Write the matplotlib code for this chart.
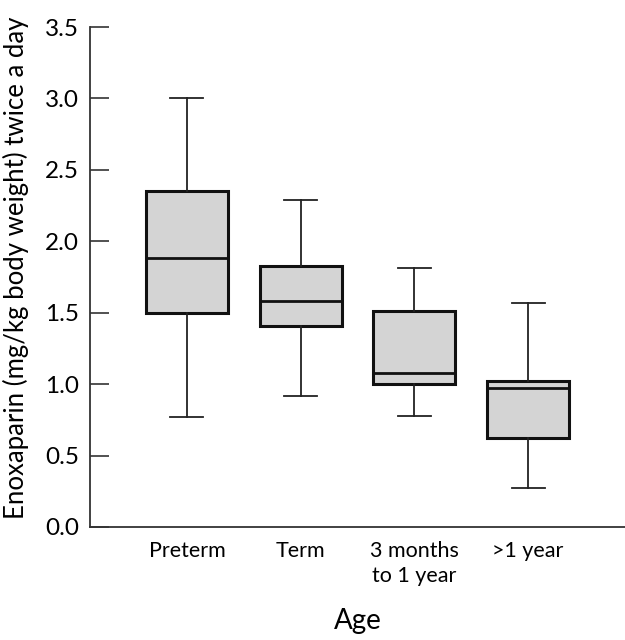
import matplotlib
matplotlib.use("Agg")
import matplotlib.pyplot as plt

# box statistics
groups = ["Preterm", "Term", "3 months\nto 1 year", ">1 year"]
whislo = [0.77, 0.92, 0.78, 0.27]
q1 = [1.50, 1.41, 1.00, 0.62]
med = [1.88, 1.58, 1.08, 0.97]
q3 = [2.35, 1.83, 1.51, 1.02]
whishi = [3.00, 2.29, 1.81, 1.57]

plt.rcParams['font.family'] = ['Lato', 'DejaVu Sans']

stats = []
for i in range(len(groups)):
    stats.append(dict(label=groups[i], whislo=whislo[i], q1=q1[i], med=med[i],
                      q3=q3[i], whishi=whishi[i], fliers=[]))

fig = plt.figure(figsize=(6.25, 6.4), dpi=100)
ax = fig.add_axes([0.144, 0.1766, 0.856, 0.7812])

ax.bxp(stats, positions=[1, 2, 3, 4], widths=0.72, capwidths=0.29,
       showfliers=False, patch_artist=True,
       boxprops=dict(facecolor="#d4d4d4", edgecolor="#111111", linewidth=2.2),
       medianprops=dict(color="#111111", linewidth=2.0),
       whiskerprops=dict(color="#222222", linewidth=1.3),
       capprops=dict(color="#222222", linewidth=1.3))

ax.set_xlim(0.147, 4.853)
ax.set_ylim(0, 3.5)
ax.set_yticks([0.0, 0.5, 1.0, 1.5, 2.0, 2.5, 3.0, 3.5])
ax.set_yticklabels(["0.0", "0.5", "1.0", "1.5", "2.0", "2.5", "3.0", "3.5"])
ax.tick_params(axis='y', direction='in', length=14, width=1.2, color="#333333",
               labelsize=17.5, pad=8)
ax.tick_params(axis='x', length=0, labelsize=15.5, pad=10)
for lab in ax.get_xticklabels():
    lab.set_linespacing(1.3)

ax.spines['top'].set_visible(False)
ax.spines['right'].set_visible(False)
ax.spines['left'].set_color("#333333")
ax.spines['bottom'].set_color("#333333")
ax.spines['left'].set_linewidth(1.3)
ax.spines['bottom'].set_linewidth(1.3)

fig.text(16 / 625, 1 - 268 / 640, "Enoxaparin (mg/kg body weight) twice a day",
         rotation=90, ha='center', va='center', fontsize=18.5)
fig.text(358 / 625, 1 - 621 / 640, "Age", ha='center', va='center', fontsize=20)

fig.savefig("out.png", dpi=100)
